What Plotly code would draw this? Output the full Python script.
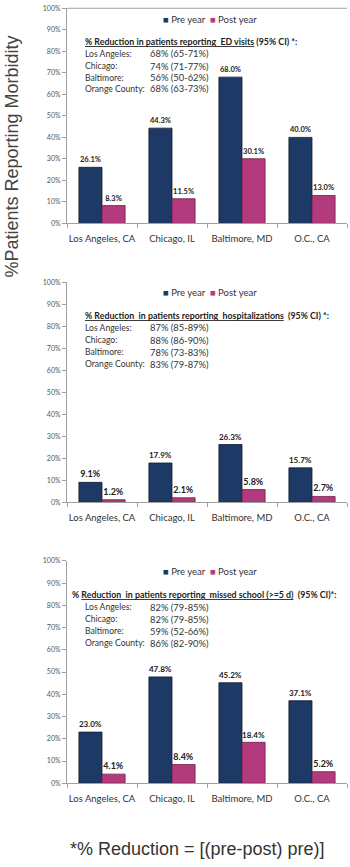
import plotly.graph_objects as go

W, H = 350, 867

categories = ["Los Angeles, CA", "Chicago, IL", "Baltimore, MD", "O.C., CA"]

ed_pre = [26.1, 44.3, 68.0, 40.0]
ed_post = [8.3, 11.5, 30.1, 13.0]
hosp_pre = [9.1, 17.9, 26.3, 15.7]
hosp_post = [1.2, 2.1, 5.8, 2.7]
school_pre = [23.0, 47.8, 45.2, 37.1]
school_post = [4.1, 8.4, 18.4, 5.2]

cities = ["Los Angeles:", "Chicago:", "Baltimore:", "Orange County:"]
ed_red = ["68% (65-71%)", "74% (71-77%)", "56% (50-62%)", "68% (63-73%)"]
hosp_red = ["87% (85-89%)", "88% (86-90%)", "78% (73-83%)", "83% (79-87%)"]
school_red = ["82% (79-85%)", "82% (79-85%)", "59% (52-66%)", "86% (82-90%)"]

titles = [
    "<u>% Reduction in patients reporting  ED visits</u> (95% CI) *:",
    "<u>% Reduction  in patients reporting  hospitalizations</u>  (95% CI) *:",
    "% <u>Reduction  in patients reporting  missed school (>=5 d)</u>  (95% CI)*:",
]

PRE_C = "#1d3a66"
POST_C = "#b23a7d"
LAB_FONT = "Lato"

# panel pixel layout: (top of 100%, bottom 0%)
panels_px = [(3.3, 220.5), (280, 502), (561, 785.5)]
title_px = [37, 313, 595]
lines_px = [[49.3, 61.7, 73.3, 84.3], [325.7, 338.3, 350.7, 362.7], [607.7, 620, 632.3, 644.3]]
legend_px = [15, 290, 572]
title_x_px = [83, 83, 70]
title_sizes = [8.8, 8.8, 8.8]
label_sizes = [7.5, 9, 9]

def py(px):
    return 1 - px / H

xdom = [67 / W, 347 / W]

fig = go.Figure()
series = [(ed_pre, ed_post), (hosp_pre, hosp_post), (school_pre, school_post)]
reds = [ed_red, hosp_red, school_red]

for i, (pre, post) in enumerate(series):
    n = "" if i == 0 else str(i + 1)
    xa, ya = "x" + n, "y" + n
    for vals, col, name in [(pre, PRE_C, "Pre year"), (post, POST_C, "Post year")]:
        fig.add_trace(go.Bar(
            x=categories, y=vals, name=name, xaxis=xa, yaxis=ya,
            marker=dict(color=col, line=dict(color="#1a1a2e" if col == PRE_C else "#6e1f48", width=0.8)),
            text=[f"{v:.1f}%" for v in vals], textposition="outside",
            textfont=dict(family=LAB_FONT, size=label_sizes[i], color="#222222", weight="bold"),
            cliponaxis=False, showlegend=False,
        ))
    top, bot = panels_px[i]
    axkey = "xaxis" + n
    aykey = "yaxis" + n
    fig.layout[axkey] = dict(
        domain=xdom, anchor=ya, showgrid=False, showline=True, linecolor="#a0a0a0", linewidth=1,
        ticks="outside", tickson="boundaries", ticklen=4, tickcolor="#a0a0a0", tickangle=0,
        ticklabelstandoff=6,
        tickfont=dict(family=LAB_FONT, size=9.5, color="#333333"), fixedrange=True,
    )
    fig.layout[aykey] = dict(
        domain=[py(bot), py(top)], anchor=xa, range=[0, 100], dtick=10,
        ticksuffix="%", showgrid=False, showline=True, linecolor="#a0a0a0", linewidth=1,
        ticks="outside", ticklen=4, tickcolor="#a0a0a0", zeroline=False,
        tickfont=dict(family=LAB_FONT, size=7, color="#555555"), fixedrange=True,
    )
    # legend as text
    fig.add_annotation(
        xref="paper", yref="paper", x=210 / W, y=py(legend_px[i]),
        xanchor="center", yanchor="middle", showarrow=False,
        text=f'<span style="color:{PRE_C}">■</span> Pre year  <span style="color:{POST_C}">■</span> Post year',
        font=dict(family=LAB_FONT, size=9.5, color="#333333"),
    )
    # reduction title
    fig.add_annotation(
        xref="paper", yref="paper", x=title_x_px[i] / W, y=py(title_px[i]),
        xanchor="left", yanchor="middle", showarrow=False, text="<b>" + titles[i] + "</b>",
        font=dict(family=LAB_FONT, size=title_sizes[i], color="#222222"),
    )
    for c, r, ypx in zip(cities, reds[i], lines_px[i]):
        fig.add_annotation(xref="paper", yref="paper", x=83 / W, y=py(ypx), xanchor="left",
                           yanchor="middle", showarrow=False, text=c,
                           font=dict(family=LAB_FONT, size=8.6, color="#333333"))
        fig.add_annotation(xref="paper", yref="paper", x=148 / W, y=py(ypx), xanchor="left",
                           yanchor="middle", showarrow=False, text=r,
                           font=dict(family=LAB_FONT, size=9.4, color="#333333"))

# top frame line of first panel
fig.add_shape(type="line", xref="paper", yref="paper", x0=xdom[0], x1=xdom[1],
              y0=py(panels_px[0][0]), y1=py(panels_px[0][0]), line=dict(color="#a0a0a0", width=1))

fig.add_annotation(xref="paper", yref="paper", x=12 / W, y=py(153), textangle=-90,
                   xanchor="center", yanchor="middle", showarrow=False,
                   text="%Patients Reporting Morbidity",
                   font=dict(family="Liberation Sans", size=18, color="#444444"))
fig.add_annotation(xref="paper", yref="paper", x=197 / W, y=py(852),
                   xanchor="center", yanchor="middle", showarrow=False,
                   text="*% Reduction = [(pre-post) pre)]",
                   font=dict(family="Liberation Sans", size=18, color="#333333"))

fig.update_layout(
    width=W, height=H, margin=dict(l=0, r=0, t=0, b=0),
    paper_bgcolor="white", plot_bgcolor="white",
    barmode="group", bargap=0.34, bargroupgap=0,
    font=dict(family=LAB_FONT),
)

fig.write_html("out.html", config={"displayModeBar": False})
